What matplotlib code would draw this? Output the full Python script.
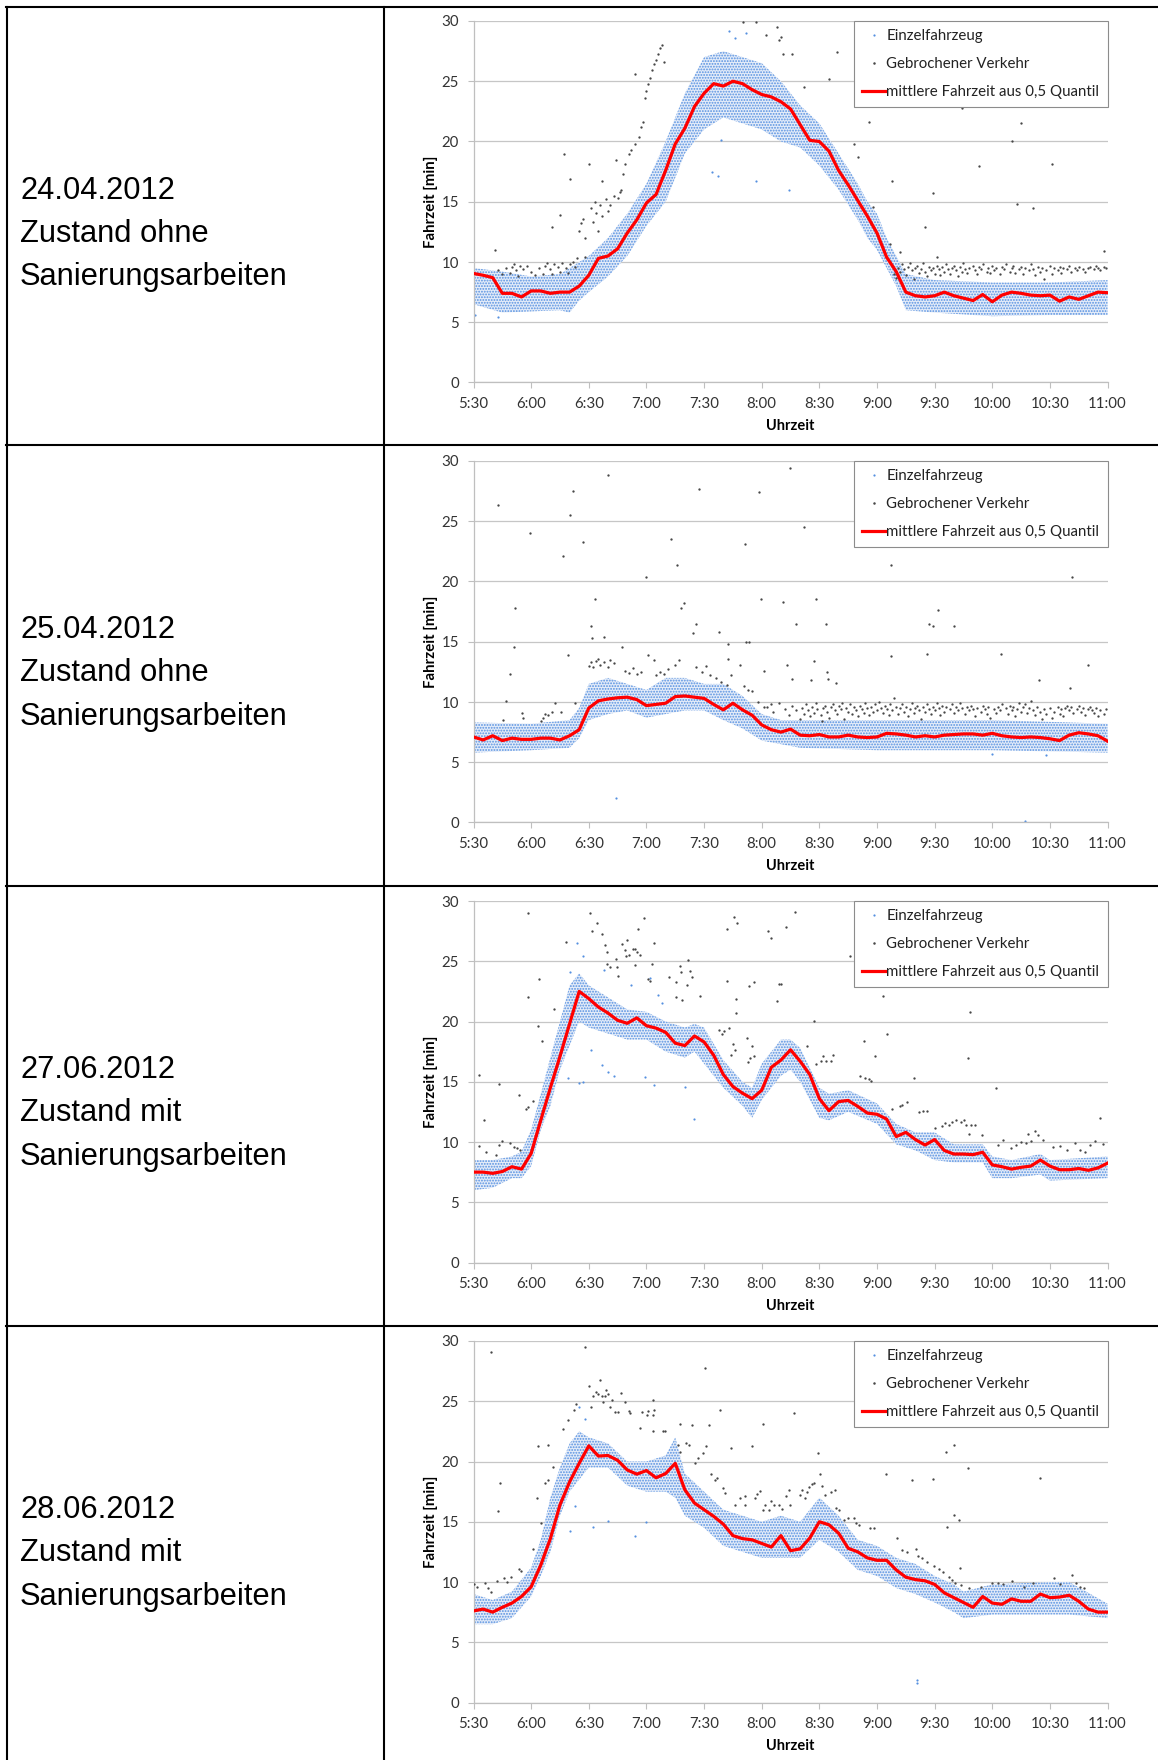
import numpy as np
import matplotlib
matplotlib.use("Agg")
import matplotlib.pyplot as plt
from matplotlib.lines import Line2D

plt.rcParams["hatch.linewidth"] = 0.9

# ---------------- data ----------------
row_titles = [
    ["24.04.2012", "Zustand ohne", "Sanierungsarbeiten"],
    ["25.04.2012", "Zustand ohne", "Sanierungsarbeiten"],
    ["27.06.2012", "Zustand mit", "Sanierungsarbeiten"],
    ["28.06.2012", "Zustand mit", "Sanierungsarbeiten"],
]

xtick_pos = [330, 360, 390, 420, 450, 480, 510, 540, 570, 600, 630, 660]
xtick_labels = ["5:30", "6:00", "6:30", "7:00", "7:30", "8:00", "8:30",
                "9:00", "9:30", "10:00", "10:30", "11:00"]
ytick_pos = [0, 5, 10, 15, 20, 25, 30]

legend_labels = ["Einzelfahrzeug", "Gebrochener Verkehr",
                 "mittlere Fahrzeit aus 0,5 Quantil"]

# median (0.5 quantile) travel time, every 5 minutes from 5:30 to 11:00
median_t = np.arange(330, 661, 5)
median1 = [9.05, 8.9, 8.7, 7.4, 7.4, 7.1,
           7.6, 7.6, 7.4, 7.5, 7.5, 8.0, 8.9, 10.3, 10.5, 11.1, 12.4, 13.5,
           14.9, 15.6, 17.6, 19.8, 21.1, 22.9, 24.0, 24.8, 24.6, 25.0, 24.8, 24.3,
           23.9, 23.7, 23.3, 22.7, 21.4, 20.1, 20.0, 19.2, 17.6, 16.4, 15.1, 13.8,
           12.4, 10.4, 9.2, 7.5, 7.2, 7.1, 7.2, 7.5, 7.2, 7.0, 6.8, 7.3,
           6.7, 7.25, 7.5, 7.4, 7.25, 7.2, 7.25, 6.75, 7.1, 6.9, 7.2, 7.5,
           7.45]
median2 = [7.1, 6.85, 7.2, 6.8, 7.0, 6.9,
           6.9, 7.0, 7.0, 6.85, 7.2, 7.7, 9.5, 10.1, 10.25, 10.35, 10.4, 10.2,
           9.7, 9.8, 9.9, 10.45, 10.5, 10.4, 10.3, 9.8, 9.35, 9.9, 9.35, 8.9,
           8.1, 7.7, 7.5, 7.75, 7.25, 7.2, 7.3, 7.1, 7.1, 7.25, 7.1, 7.05,
           7.1, 7.4, 7.35, 7.25, 7.1, 7.2, 7.1, 7.25, 7.3, 7.35, 7.35, 7.25,
           7.4, 7.2, 7.1, 7.05, 7.1, 7.05, 6.95, 6.8, 7.25, 7.45, 7.35, 7.2,
           6.75]
median3 = [7.5, 7.5, 7.4, 7.55, 7.95, 7.75,
           9.05, 11.8, 14.5, 17.1, 19.8, 22.5, 21.9, 21.2, 20.7, 20.1, 19.85, 20.3,
           19.65, 19.45, 19.1, 18.2, 18.0, 18.8, 18.3, 17.2, 15.6, 14.6, 14.05, 13.6,
           14.3, 16.2, 16.8, 17.65, 16.7, 15.6, 13.6, 12.6, 13.35, 13.45, 12.95, 12.4,
           12.3, 11.9, 10.45, 10.8, 10.2, 9.75, 10.2, 9.3, 9.0, 9.0, 8.95, 9.15,
           8.1, 7.95, 7.75, 7.9, 8.0, 8.5, 8.0, 7.7, 7.7, 7.8, 7.65, 7.85,
           8.25]
median4 = [7.6, 7.75, 7.5, 7.9, 8.25, 8.8,
           9.6, 11.4, 13.6, 16.4, 18.3, 19.85, 21.3, 20.45, 20.5, 20.1, 19.3, 18.95,
           19.25, 18.65, 19.0, 19.85, 17.65, 16.55, 16.0, 15.45, 14.8, 13.85, 13.6, 13.5,
           13.2, 12.9, 13.85, 12.6, 12.75, 13.65, 15.0, 14.75, 14.05, 12.8, 12.5, 12.0,
           11.8, 11.8, 11.0, 10.4, 10.2, 10.1, 9.8, 9.1, 8.7, 8.3, 7.9, 8.8,
           8.25, 8.15, 8.6, 8.4, 8.4, 9.0, 8.7, 8.75, 8.9, 8.4, 7.75, 7.5,
           7.5]

# spread of the single-vehicle cloud (lower / upper edge)
band1_t = [330, 345, 360, 375, 380, 385, 390, 400, 410, 420, 430, 435, 440, 450, 460, 470,
           480, 490, 500, 510, 520, 530, 535, 540, 545, 550, 555, 570, 600, 630, 660]
band1_lo = [6.5, 5.8, 5.9, 6.0, 5.8, 6.8, 7.5, 8.8, 10.5, 13.0, 15.0, 17.0, 19.0, 21.0, 22.0, 21.5,
            21.0, 20.0, 19.5, 18.0, 16.0, 13.5, 12.0, 11.0, 9.5, 8.0, 6.0, 5.8, 5.5, 5.6, 5.6]
band1_hi = [9.5, 9.2, 8.8, 9.0, 9.5, 10.0, 10.5, 12.0, 14.0, 16.5, 20.0, 22.0, 24.0, 27.0, 27.5, 27.0,
            26.5, 25.0, 23.0, 21.5, 19.0, 16.5, 15.0, 14.0, 12.0, 10.5, 9.0, 8.5, 8.3, 8.3, 8.5]

band2_t = [330, 360, 380, 385, 390, 400, 410, 420, 430, 440, 450, 460, 470, 480, 490, 500, 540, 600, 660]
band2_lo = [5.8, 6.0, 6.2, 7.0, 8.5, 9.0, 9.3, 8.7, 9.0, 9.3, 9.3, 8.5, 7.8, 6.8, 6.5, 6.2, 6.0, 6.0, 5.8]
band2_hi = [8.3, 8.2, 8.5, 9.5, 11.5, 12.0, 11.5, 11.0, 12.0, 12.0, 11.5, 11.5, 10.5, 9.0, 8.5, 8.5, 8.5, 8.5, 8.2]

band3_t = [330, 340, 350, 355, 360, 365, 370, 375, 380, 385, 390, 400, 410, 420, 430, 440, 445, 450, 460, 470,
           475, 480, 490, 495, 500, 510, 515, 525, 540, 550, 560, 570, 580, 595, 600, 610, 625, 630, 660]
band3_lo = [6.0, 6.2, 7.0, 7.0, 8.0, 11.0, 13.0, 16.0, 18.0, 20.0, 19.5, 19.0, 18.5, 18.5, 17.5, 17.0, 17.5, 16.5, 14.5, 13.0,
            12.0, 13.5, 15.5, 16.0, 15.0, 12.0, 11.8, 12.5, 11.5, 9.8, 9.3, 8.5, 8.3, 8.3, 7.0, 7.0, 7.3, 6.8, 7.0]
band3_hi = [8.5, 8.5, 8.8, 9.2, 11.0, 14.0, 17.0, 20.0, 23.0, 24.0, 23.0, 22.0, 21.0, 20.8, 20.0, 19.5, 19.8, 19.5, 16.8, 15.0,
            14.5, 16.5, 18.5, 18.5, 17.8, 14.5, 14.0, 14.3, 13.2, 11.5, 10.8, 10.8, 9.8, 9.8, 8.8, 8.5, 9.0, 8.5, 8.8]

band4_t = [330, 340, 350, 360, 365, 370, 375, 380, 385, 390, 400, 410, 420, 430, 435, 440, 450, 460, 470, 480,
           490, 500, 510, 520, 530, 540, 550, 560, 570, 580, 585, 600, 630, 640, 660]
band4_lo = [6.5, 6.5, 7.0, 8.8, 10.5, 12.5, 15.5, 17.5, 18.5, 19.5, 19.5, 18.0, 17.5, 17.5, 17.0, 15.5, 14.5, 13.0, 12.5, 12.0,
            12.0, 12.0, 13.5, 12.5, 11.0, 10.5, 9.5, 9.0, 8.3, 7.5, 7.0, 7.3, 7.3, 7.3, 7.0]
band4_hi = [9.0, 8.5, 9.2, 11.2, 13.5, 17.0, 19.5, 21.5, 22.5, 22.0, 21.5, 20.0, 20.0, 20.5, 22.0, 19.0, 17.5, 16.0, 15.5, 15.0,
            15.5, 15.0, 17.0, 15.5, 13.5, 13.0, 12.0, 11.5, 10.5, 9.8, 9.2, 9.8, 10.0, 10.0, 8.2]

# isolated single vehicles outside the main cloud (minute of day, minutes)
blue1 = [(454, 17.5), (457, 17.1), (459, 20.1), (477, 16.7), (494, 16.0), (331, 5.6), (343, 5.4),
         (463, 29.2), (466, 28.6), (472, 29.0)]
blue2 = [(404, 2.0), (617, 0.15), (600, 5.7), (628, 5.6)]
blue3 = [(379, 15.3), (385, 14.9), (387, 15.0), (391, 17.6), (397, 16.4), (400, 15.8), (403, 15.5),
         (419, 15.4), (424, 14.7), (440, 14.6), (445, 11.9), (384, 26.5), (387, 25.4), (380, 24.1),
         (398, 24.3), (412, 23.0), (422, 23.6), (426, 22.2), (428, 21.5)]
blue4 = [(561, 1.9), (561, 1.6), (392, 14.6), (400, 15.1), (414, 13.8), (420, 15.0), (383, 16.3),
         (380, 14.2), (385, 24.5), (388, 23.5)]

# "Gebrochener Verkehr" (broken traffic) points
gray1 = [(341, 11.0), (343, 9.3), (345, 9.0), (347, 9.5), (349, 9.1), (350, 9.6), (351, 9.8), (352, 9.3),
         (353, 8.8), (354, 9.7), (356, 9.4), (358, 9.7), (360, 9.2), (362, 8.9), (364, 9.5), (366, 9.0),
         (367, 9.7), (368, 9.9), (370, 9.4), (371, 9.0), (372, 9.8), (374, 9.6), (375, 9.2), (376, 9.9),
         (378, 9.5), (379, 9.1), (380, 9.8), (382, 10.0), (383, 9.6), (384, 10.3),
         (371, 12.9), (375, 13.9), (377, 19.0), (380, 16.9), (385, 12.6), (386, 13.2), (387, 13.6),
         (388, 10.4), (388, 12.0), (390, 18.1), (391, 14.5), (392, 13.3), (393, 15.0), (394, 14.1),
         (395, 12.6), (396, 14.7), (397, 13.8), (397, 16.7), (399, 15.2), (400, 14.2), (401, 14.7),
         (403, 15.5), (404, 18.5), (405, 15.3), (406, 15.8), (407, 16.0), (408, 17.3), (409, 18.1),
         (411, 19.0), (412, 19.3), (414, 25.6), (414, 19.8), (416, 20.4), (417, 21.2), (418, 21.6),
         (419, 23.6), (420, 24.2), (421, 24.8), (422, 25.3), (423, 25.9), (424, 26.4), (425, 26.8),
         (426, 27.3), (427, 27.8), (428, 28.0), (429, 26.6),
         (470, 29.9), (477, 29.9), (482, 28.8), (488, 29.5), (489, 28.4), (490, 28.7), (491, 27.3),
         (496, 27.3), (502, 24.5), (515, 25.2), (519, 27.4), (528, 19.8), (530, 18.7), (536, 21.6),
         (538, 14.6), (547, 11.5), (548, 16.7), (552, 10.8), (565, 12.9), (569, 15.7), (571, 10.4),
         (584, 22.8), (593, 18.0), (610, 20.0), (613, 14.8), (615, 21.5), (621, 14.5), (631, 18.1),
         (658, 10.9),
         (549, 9.0), (550, 8.7), (551, 9.5), (552, 9.2), (553, 9.8), (554, 9.4), (555, 8.9), (556, 9.6),
         (557, 9.9), (558, 9.3), (559, 8.6), (560, 9.5), (561, 9.7), (562, 9.1), (563, 9.4), (564, 9.9),
         (565, 9.2), (566, 8.8), (567, 9.6), (568, 9.3), (569, 9.5), (570, 9.0), (571, 9.7), (572, 9.4),
         (573, 8.9), (574, 9.6), (575, 9.2), (576, 9.8), (577, 9.4), (578, 9.0), (579, 9.5), (580, 9.7),
         (581, 9.3), (582, 8.8), (583, 9.6), (584, 9.2), (585, 9.9), (586, 9.4), (587, 9.1), (588, 9.5),
         (590, 9.7), (591, 9.3), (592, 9.0), (593, 9.6), (594, 9.4), (595, 9.8), (597, 9.2), (598, 9.5),
         (599, 9.1), (600, 9.7), (601, 9.3), (602, 9.5), (604, 9.0), (605, 9.6), (606, 9.4), (607, 9.8),
         (609, 9.2), (610, 9.5), (611, 9.7), (612, 9.1), (614, 9.4), (615, 9.6), (616, 9.0), (617, 9.5),
         (619, 9.3), (620, 9.8), (621, 9.4), (622, 8.9), (624, 9.6), (625, 9.2), (626, 9.5), (627, 8.6),
         (628, 9.3), (630, 9.7), (631, 9.0), (632, 9.5), (634, 9.3), (635, 9.6), (636, 9.1), (637, 9.5),
         (639, 9.4), (640, 9.7), (641, 9.2), (643, 9.5), (644, 9.3), (645, 9.6), (647, 9.4), (648, 9.2),
         (650, 9.5), (651, 9.6), (653, 9.4), (654, 9.7), (655, 9.5), (656, 9.3), (658, 9.6), (659, 9.5)]

gray2 = [(342.8, 26.35), (345.4, 8.5), (347, 10.1), (348.8, 12.3), (351.1, 14.6), (351.8, 17.8),
         (355.4, 9.1), (355.9, 8.65), (359.6, 24.0), (365, 8.4), (366, 8.7), (367, 9.0), (369, 8.9),
         (371, 9.2), (372.4, 9.9), (375.5, 9.15), (376.5, 22.1), (379.1, 13.9), (380.1, 25.5),
         (381.7, 27.5), (383, 9.9), (387, 23.3), (391.2, 16.3), (391.7, 15.3), (393.2, 18.55),
         (390, 13.0), (391, 13.3), (392, 12.9), (394, 13.4), (395, 13.6), (396, 13.1), (398, 13.3),
         (400, 12.9), (401, 13.5), (403, 13.2), (398.1, 15.4), (400.2, 28.8), (407.4, 14.6),
         (409, 12.6), (411, 12.4), (413, 12.8), (415, 12.3), (417, 12.5), (419.9, 20.35), (420.7, 13.9),
         (424.1, 13.5), (425, 12.2), (427, 12.5), (429, 12.3), (431, 12.7), (433, 23.5), (434.8, 13.1),
         (436.1, 21.4), (436.7, 13.5), (437.9, 17.8), (439.7, 18.2), (444.4, 15.7), (445.9, 16.5),
         (447.4, 27.7), (446, 12.9), (449, 12.5), (451, 13.0), (453, 12.2), (458, 15.8), (456, 12.0),
         (459, 11.7), (462, 11.4), (464, 12.2), (462.6, 14.8), (462.3, 13.6), (468.5, 13.1),
         (471.1, 23.1), (471.6, 15.0), (473.4, 15.0), (471, 11.3), (473, 11.0), (475, 10.9),
         (478.5, 27.4), (479.8, 18.55), (481.1, 12.6), (478, 10.0), (481, 9.6), (485, 9.8),
         (490.9, 18.3), (493, 13.1), (494.5, 29.4), (495.5, 11.9), (497.6, 16.5), (501.9, 24.5),
         (505.8, 11.8), (507.3, 13.4), (508.1, 18.55), (511.4, 8.4), (513.5, 16.5), (514, 12.5),
         (514.5, 11.9), (518.9, 11.6), (547.2, 21.4), (547.2, 13.8), (565.9, 14.0), (567.2, 16.5),
         (569, 16.3), (571.8, 17.6), (580.3, 16.3), (604.5, 14.0), (624.3, 11.8), (641.7, 20.35),
         (640.5, 11.2), (650, 13.1),
         (483, 9.6), (486, 9.2), (489, 9.9), (492, 9.4), (494, 8.9), (496, 9.7), (498, 9.3), (500, 8.6),
         (501, 9.5), (502, 9.0), (503, 9.8), (504, 9.3), (505, 8.8), (506, 9.6), (507, 9.1), (508, 9.9),
         (509, 9.4), (511, 8.9), (512, 9.5), (513, 9.7), (514, 9.2), (515, 8.7), (516, 9.6), (517, 9.8),
         (518, 9.3), (519, 9.0), (520, 9.7), (521, 9.4), (522, 9.9), (523, 8.6), (524, 9.5), (525, 9.2),
         (526, 9.8), (527, 9.0), (528, 9.6), (529, 9.3), (530, 8.8), (531, 9.7), (532, 9.4), (533, 9.1),
         (534, 9.9), (535, 9.5), (536, 8.9), (537, 9.6), (538, 9.2), (539, 9.8), (540, 9.3), (541, 10.0),
         (542, 9.5), (543, 9.1), (544, 9.7), (545, 9.4), (546, 8.9), (547, 9.8), (548, 9.3), (549, 10.3),
         (550, 9.6), (551, 9.0), (552, 9.5), (553, 9.8), (554, 9.2), (555, 9.6), (556, 8.8), (557, 9.4),
         (558, 9.9), (559, 9.1), (560, 9.5), (561, 9.7), (562, 9.3), (563, 8.6), (564, 9.6), (565, 9.2),
         (566, 9.8), (567, 9.4), (568, 9.0), (569, 9.6), (570, 9.3), (571, 9.9), (572, 9.5), (573, 8.9),
         (574, 9.7), (575, 9.2), (576, 9.6), (578, 9.4), (579, 9.8), (580, 9.1), (581, 9.6), (582, 9.3),
         (583, 9.9), (584, 9.5), (586, 9.0), (587, 9.6), (588, 9.3), (589, 9.7), (590, 9.4), (591, 8.8),
         (592, 9.5), (594, 9.2), (595, 9.7), (596, 9.4), (597, 9.0), (598, 9.6), (599, 8.7), (601, 9.4),
         (602, 9.1), (603, 9.6), (604, 9.3), (605, 9.8), (607, 9.5), (608, 9.0), (609, 9.7), (610, 9.3),
         (611, 9.6), (612, 8.8), (613, 9.4), (614, 9.9), (615, 9.2), (616, 9.6), (617, 9.8), (618, 9.1),
         (619, 9.5), (620, 10.1), (621, 9.3), (622, 8.9), (623, 9.6), (625, 9.2), (626, 8.6), (627, 9.4),
         (628, 9.0), (630, 9.5), (631, 8.7), (632, 9.2), (634, 9.6), (635, 9.0), (636, 9.4), (637, 8.8),
         (638, 9.5), (639, 9.7), (640, 9.3), (641, 9.6), (642, 9.1), (644, 9.4), (645, 9.7), (646, 9.2),
         (647, 9.5), (648, 8.9), (650, 9.4), (651, 9.6), (652, 9.3), (653, 9.1), (654, 9.5), (655, 8.8),
         (656, 9.3), (658, 9.0), (659, 9.4)]

gray3 = [(332.8, 15.55), (333.1, 9.7), (335.4, 11.8), (336.4, 9.2), (341.8, 8.9), (343.1, 14.8),
         (343.1, 9.75), (344.9, 10.1), (349, 9.95), (351.3, 9.6), (352.6, 9.5), (353.9, 13.9),
         (354.2, 9.35), (357.2, 12.75), (358.3, 29.0), (358.5, 22.0), (358.5, 12.9), (361.1, 13.4),
         (363.9, 23.5), (363.7, 19.6), (365.7, 18.4), (371.9, 21.05), (378.1, 26.6), (390.7, 29.0),
         (391.7, 27.55), (394.2, 28.15), (397.1, 27.3), (398.4, 26.35), (399.4, 25.8), (399.4, 24.75),
         (400.9, 24.55), (404, 25.2), (404.7, 24.55), (405.3, 23.8), (407.4, 26.4), (408.6, 25.9),
         (409.2, 25.45), (409.9, 26.75), (410.9, 25.5), (413, 26.05), (413.8, 24.65), (414.3, 26.05),
         (415.1, 25.8), (415.8, 27.7), (416.4, 25.55), (418.9, 28.6), (420.7, 23.5), (422, 23.35),
         (422.7, 24.8), (423.8, 26.5), (431.8, 23.7), (435.4, 23.3), (435.6, 22.0), (437.4, 24.6),
         (438.2, 24.1), (438.4, 21.8), (440.9, 23.0), (441.7, 25.1), (442.5, 24.2), (443.8, 23.7),
         (447.7, 22.15), (458, 19.3), (459.3, 18.95), (460.6, 19.25), (461.8, 23.4), (462.1, 27.7),
         (465.7, 28.65), (467, 28.2), (463.1, 19.5), (463.9, 17.2), (464.9, 18.1), (466.5, 20.7),
         (466.5, 21.85), (466.2, 17.6), (472.1, 18.6), (473.4, 22.95), (473.9, 16.95), (474.7, 18.0),
         (476, 23.3), (476, 17.1), (472.9, 16.6), (483.1, 27.5), (484.9, 26.95), (488, 21.7),
         (488.8, 23.1), (489.8, 23.1), (492.7, 27.85), (497.3, 29.1), (507.3, 20.05), (503.7, 17.95),
         (508.1, 16.45), (510.7, 16.75), (512, 17.1), (513.2, 16.75), (515.8, 16.7), (517.1, 17.2),
         (526.1, 25.45), (533.3, 18.4), (531.2, 15.5), (533.8, 15.35), (535.9, 15.2), (537.1, 15.1),
         (538.9, 17.15), (543.3, 22.1), (545.4, 18.95), (547.9, 12.7), (551.8, 13.0), (553, 13.1),
         (555.6, 13.35), (559.5, 15.35), (562, 12.45), (564.1, 12.6), (565.9, 12.6), (570.3, 11.15),
         (573.6, 11.3), (575.4, 11.55), (577.5, 11.4), (578.8, 11.7), (581.3, 11.8), (583.9, 11.65),
         (585.2, 11.8), (586.5, 11.4), (589, 11.4), (587.8, 10.7), (587.3, 16.95), (588.3, 20.8),
         (590.9, 11.4), (594.7, 10.55), (601.9, 14.45), (603.2, 9.75), (605.8, 10.15), (609.6, 9.5),
         (612.2, 9.75), (614.8, 10.0), (617.3, 9.9), (618.6, 10.7), (619.9, 10.1), (622.4, 10.95),
         (623.7, 10.6), (626.3, 10.15), (631.4, 9.6), (635.3, 9.7), (639.1, 9.35), (642.9, 9.9),
         (645.5, 9.35), (648.1, 9.2), (650.7, 9.75), (653.3, 10.1), (655.9, 12.0), (657.7, 9.8)]

gray4 = [(330, 9.8), (332, 9.6), (335.9, 9.9), (337.7, 9.5), (339.3, 9.2), (339.3, 29.05), (342.3, 10.1),
         (342.8, 15.9), (343.6, 18.2), (345.7, 10.3), (347.5, 10.0), (349.3, 10.45), (353.9, 11.05),
         (354.7, 10.9), (360.8, 12.75), (362.9, 16.95), (363.4, 21.3), (364.9, 14.9), (367.3, 18.2),
         (368.8, 21.4), (368.8, 18.45), (371.4, 19.55), (376.5, 22.7), (379.1, 23.45), (382.2, 24.3),
         (383.5, 24.8), (388, 29.5), (390.1, 26.3), (391.1, 24.55), (392.4, 25.4), (393.7, 25.8),
         (395, 25.6), (395.7, 26.75), (397, 25.4), (397.5, 24.95), (398.3, 25.45), (398.8, 25.95),
         (400.1, 25.6), (400.9, 24.55), (401.9, 25.1), (403.5, 24.1), (405.3, 24.1), (406.6, 25.7),
         (408.6, 24.9), (410.9, 24.2), (411.7, 24.0), (416.9, 22.75), (417.6, 24.1), (420.2, 23.9),
         (420.7, 24.2), (423.3, 23.85), (423.3, 25.1), (423.8, 24.3), (423.3, 22.5), (428.4, 22.55),
         (429.7, 22.55), (436.4, 21.35), (437.5, 20.8), (440.8, 21.5), (441.9, 21.35), (437.4, 23.1),
         (443.9, 23.0), (445.1, 19.9), (446.9, 20.25), (449.5, 20.7), (450.5, 27.8), (450.8, 21.3),
         (452.8, 23.0), (453.6, 18.95), (455.9, 18.45), (456.7, 18.6), (458.5, 24.3), (459.8, 17.8),
         (461.1, 17.35), (463.9, 21.1), (466.2, 16.4), (468.8, 16.95), (471.4, 17.15), (471.4, 16.4),
         (474.7, 21.3), (476.5, 17.0), (477.8, 17.3), (479.1, 17.55), (480.6, 16.0), (480.6, 23.1),
         (481.9, 16.35), (483.7, 16.0), (485, 16.75), (486.2, 16.4), (488.8, 16.4), (490.6, 16.05),
         (492.7, 17.15), (494, 17.65), (494.5, 16.4), (496.6, 24.05), (499.7, 17.25), (501.2, 17.65),
         (502.3, 17.0), (503.8, 17.5), (504.8, 17.9), (506.4, 18.1), (507.4, 18.2), (509.4, 20.7),
         (510.2, 18.95), (511.5, 18.0), (512.7, 17.25), (516.3, 17.5), (517.9, 17.6), (518.4, 16.15),
         (520.2, 16.0), (522.8, 15.15), (524.8, 15.35), (527.9, 15.35), (529.2, 14.9), (530.7, 14.75),
         (536.4, 14.5), (538.4, 14.45), (544.9, 18.95), (550.5, 13.65), (553, 12.65), (555.6, 12.45),
         (558.2, 18.45), (560.2, 12.75), (561.2, 12.15), (563.3, 12.0), (565.9, 11.65), (569, 18.55),
         (569.7, 11.3), (572.3, 11.05), (574.4, 10.85), (575.7, 20.75), (576.2, 14.6), (577.5, 10.45),
         (578.8, 10.15), (580.1, 21.4), (580.1, 15.55), (582.6, 15.15), (583.2, 11.15), (580.8, 9.9),
         (583.9, 9.75), (587.3, 19.45), (587.8, 9.5), (594.2, 9.6), (599.8, 9.9), (603.2, 9.9),
         (605.8, 9.8), (610.1, 10.1), (616.6, 9.6), (621.2, 9.95), (625, 18.65), (632.2, 10.3),
         (635.3, 9.8), (641.7, 10.6), (643.8, 9.95), (645.6, 9.6), (647.6, 9.5)]

panels = [
    (median1, band1_t, band1_lo, band1_hi, blue1, gray1),
    (median2, band2_t, band2_lo, band2_hi, blue2, gray2),
    (median3, band3_t, band3_lo, band3_hi, blue3, gray3),
    (median4, band4_t, band4_lo, band4_hi, blue4, gray4),
]

# ---------------- layout ----------------
W, H = 1158, 1760
fig = plt.figure(figsize=(W / 100, H / 100), dpi=100)


def fx(px):
    return px / W


def fy(py):
    return 1 - py / H


# table grid
tlw = 1.5
for x in [6.5, 384]:
    fig.add_artist(Line2D([fx(x), fx(x)], [fy(7), fy(1762)], color="black", lw=tlw))
for y in [7, 445, 886, 1326]:
    fig.add_artist(Line2D([fx(5.8), fx(1160)], [fy(y), fy(y)], color="black", lw=tlw))

text_rows = [(191, 234, 277), (630, 673, 716.5), (1070, 1113, 1156.5), (1510, 1553, 1596.5)]
for lines, ys in zip(row_titles, text_rows):
    for s, y in zip(lines, ys):
        fig.text(fx(20), fy(y), s, ha="left", va="center", fontsize=22.2,
                 family="Liberation Sans", color="black")

BLUE = "#5590e0"
GRAY = "#474747"
AXC = "#bfbfbf"
LABC = "#333333"
ax_left, ax_right = 473.5, 1107.6
ax_h = 361.5
tops = [21, 461, 901, 1341]

for (med, bt, blo, bhi, blue, gray), top in zip(panels, tops):
    ax = fig.add_axes([fx(ax_left), fy(top + ax_h), (ax_right - ax_left) / W, ax_h / H])
    ax.set_xlim(330, 660)
    ax.set_ylim(0, 30)
    for sp in ["top", "right"]:
        ax.spines[sp].set_visible(False)
    for sp in ["left", "bottom"]:
        ax.spines[sp].set_color(AXC)
        ax.spines[sp].set_linewidth(0.9)
    ax.set_xticks(xtick_pos)
    ax.set_xticklabels(xtick_labels)
    ax.set_yticks(ytick_pos)
    ax.tick_params(axis="both", direction="out", length=4, width=0.8, color=AXC,
                   labelcolor=LABC, labelsize=10.8)
    ax.tick_params(axis="x", pad=6.5)
    ax.tick_params(axis="y", pad=6.5)
    for lab in ax.get_xticklabels() + ax.get_yticklabels():
        lab.set_family("Lato")
    ax.yaxis.grid(True, color="#c6c6c6", lw=0.9, zorder=0)
    ax.set_axisbelow(True)

    # single-vehicle cloud
    ax.fill_between(bt, blo, bhi, facecolor="#e4ecf9", edgecolor=BLUE, hatch="......",
                    linewidth=0, zorder=1)
    bx, by = zip(*blue)
    ax.scatter(bx, by, s=2.5, color=BLUE, linewidths=0, zorder=2)
    gx, gy = zip(*gray)
    ax.scatter(gx, gy, s=2.8, color=GRAY, linewidths=0, zorder=3)
    ax.plot(median_t, med, color="#ff0000", lw=2.3, zorder=4, solid_joinstyle="round")

    ax.text((431 - ax_left) / (ax_right - ax_left), 0.5, "Fahrzeit [min]", rotation=90,
            ha="center", va="center", transform=ax.transAxes, family="Lato",
            fontweight="bold", fontsize=10.8, color="black")
    ax.text(0.5, -(43.4 / ax_h), "Uhrzeit", ha="center", va="center",
            transform=ax.transAxes, family="Lato", fontweight="bold", fontsize=10.5,
            color="black")

    handles = [
        Line2D([], [], marker="o", ls="none", ms=1.6, color=BLUE, mew=0),
        Line2D([], [], marker="o", ls="none", ms=1.8, color=GRAY, mew=0),
        Line2D([], [], color="#ff0000", lw=2.3),
    ]
    leg = ax.legend(handles, legend_labels, loc="upper right", bbox_to_anchor=(1, 1),
                    borderaxespad=0, frameon=True, fancybox=False, framealpha=1,
                    edgecolor="#8c8c8c", prop={"family": "Lato", "size": 10.8},
                    handlelength=1.5, handletextpad=0.1, labelspacing=0.93,
                    borderpad=0.55)
    leg.get_frame().set_linewidth(0.8)
    leg.set_zorder(10)
    for t in leg.get_texts():
        t.set_color("#222222")

fig.savefig("out.png", dpi=100, facecolor="white")
